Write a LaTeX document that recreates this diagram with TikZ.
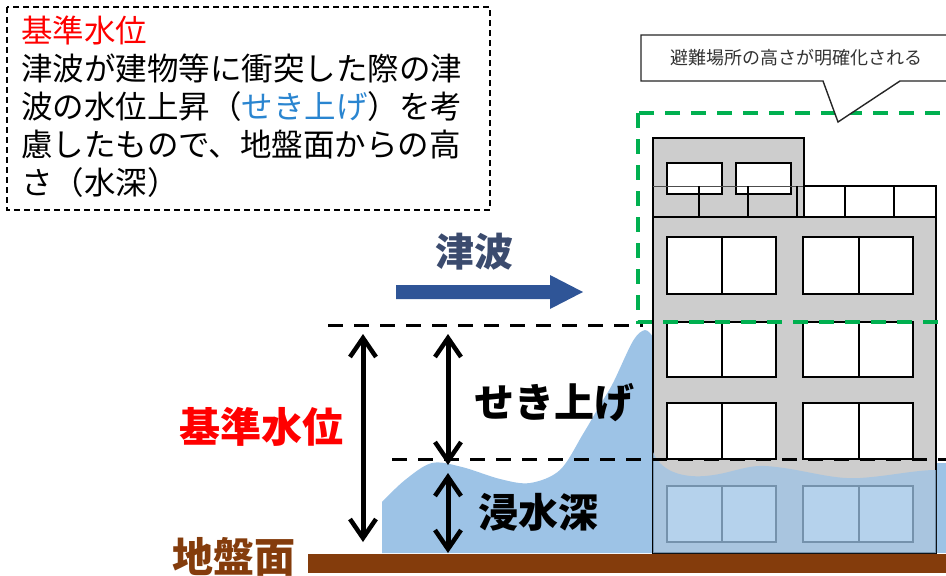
\documentclass[tikz,border=0pt]{standalone}
\usepackage{fontspec}
\newfontfamily\jp{Noto Sans CJK JP}
\usetikzlibrary{arrows.meta}
\definecolor{waterblue}{HTML}{9DC3E6}
\definecolor{wallgray}{HTML}{CDCDCD}
\definecolor{soil}{HTML}{843C0C}
\definecolor{flowblue}{HTML}{2F5597}
\definecolor{flowtext}{HTML}{3B4B6E}
\definecolor{keyred}{HTML}{FF0000}
\definecolor{keyblue}{HTML}{2A85D0}
\definecolor{zonegreen}{HTML}{00B050}
\tikzset{
  wall/.style={fill=wallgray, draw=black, line width=2pt},
  pane/.style={fill=white, draw=black, line width=2.5pt},
  level/.style={draw=black, line width=3pt, dash pattern=on 15pt off 11pt},
  dimarrow/.style={draw=black, line width=5pt,
    {Straight Barb[length=19pt,width=26pt,line width=4.5pt]}-{Straight Barb[length=19pt,width=26pt,line width=4.5pt]}},
  biglabel/.style={inner sep=0pt, font=\jp\bfseries\fontsize{40}{44}\selectfont},
}
\begin{document}
\begin{tikzpicture}[x=1pt, y=-1pt]
\useasboundingbox (0,0) rectangle (946,576);
\clip (0,0) rectangle (946,576);

% explanation box
\draw[line width=1.3pt, dash pattern=on 6pt off 4pt] (7,7) rectangle (490,210);
\node[anchor=west, inner sep=0pt, align=left, font=\jp\fontsize{31.5}{38}\selectfont] (note) at (21,107)
  {\textcolor{keyred}{基準水位}\\津波が建物等に衝突した際の津\\波の水位上昇（\textcolor{keyblue}{せき上げ}）を考\\慮したもので、地盤面からの高\\さ（水深）};

% water outside the building
\fill[waterblue] (382,553) -- plot[smooth, tension=0.55] coordinates
  {(382,502) (405,480) (432,463) (462,467) (500,479) (530,483) (560,470) (583,434) (600,405) (613,383) (633,341) (645,330) (653,337)}
  -- (653,553) -- cycle;
\fill[waterblue] (936,463) rectangle (946,553);

% building
\node[wall, inner sep=0pt, minimum width=151pt, minimum height=79pt] (penthouse) at (728.5,177.5) {};
\node[pane, inner sep=0pt, minimum width=55pt, minimum height=31pt] (pw1) at (694.5,178.5) {};
\node[pane, inner sep=0pt, minimum width=55pt, minimum height=31pt] (pw2) at (763.5,178.5) {};
\draw[black!70, line width=1pt] (653,186) -- (804,186);
\draw[black, line width=2pt] (699,186) -- (699,217) (748,186) -- (748,217) (797,186) -- (797,217);
\draw[black, line width=2pt, fill=white] (804,186) rectangle (936,217);
\draw[black, line width=2pt] (845,186) -- (845,217) (894,186) -- (894,217);
\node[wall, inner sep=0pt, minimum width=283pt, minimum height=336pt] (body) at (794.5,385) {};
\foreach \top/\bot [count=\r] in {237/294, 322/377, 403/459, 486/542} {
  \draw[pane] (667,\top) rectangle (776,\bot);
  \draw[black, line width=2.5pt] (722,\top) -- (722,\bot);
  \draw[pane] (803,\top) rectangle (913,\bot);
  \draw[black, line width=2.5pt] (859,\top) -- (859,\bot);
}

% water in front of the building
\fill[waterblue, opacity=0.75] (653,452) .. controls (660,470) and (680,478) .. (705,476)
  .. controls (730,474) and (745,465) .. (765,466)
  .. controls (800,468) and (830,480) .. (860,478)
  .. controls (890,476) and (915,470) .. (936,470)
  -- (936,553) -- (653,553) -- cycle;

% ground
\fill[soil] (308,554) rectangle (946,573);

% evacuation zone and callout
\draw[zonegreen, line width=4pt, dash pattern=on 15pt off 11pt] (638,113) rectangle (970,322);
\draw[fill=white, draw=black!85, line width=1.4pt] (641,35) -- (970,35) -- (970,81) -- (900,81) -- (838,122) -- (823,81) -- (641,81) -- cycle;
\node[inner sep=0pt, text=black!80, font=\jp\fontsize{18}{20}\selectfont] (callout) at (796,58) {避難場所の高さが明確化される};

% water levels
\coordinate (up1) at (328,325);
\coordinate (up2) at (643,325);
\coordinate (lo1) at (392,459);
\coordinate (lo2) at (946,459);
\draw[level] (up1) -- (up2);
\draw[level] (lo1) -- (lo2);

% dimension arrows
\coordinate (a1) at (363,334);
\coordinate (a2) at (363,542);
\coordinate (b1) at (448,334);
\coordinate (b2) at (448,465);
\coordinate (c1) at (448,473);
\coordinate (c2) at (448,553);
\draw[dimarrow] (a1) -- (a2);
\draw[dimarrow] (b1) -- (b2);
\draw[dimarrow] (c1) -- (c2);

% tsunami direction
\fill[flowblue] (396,285) -- (550,285) -- (550,275) -- (583,292) -- (550,309) -- (550,299) -- (396,299) -- cycle;
\node[biglabel, text=flowtext, font=\jp\bfseries\fontsize{39}{42}\selectfont] (tsunami) at (474,252) {津波};

% labels
\node[biglabel, text=black] (runup) at (554,403) {せき上げ};
\node[biglabel, text=black] (depth) at (538,512) {浸水深};
\node[biglabel, text=keyred, font=\jp\bfseries\fontsize{41}{44}\selectfont] (ref) at (261,427) {基準水位};
\node[biglabel, text=soil, font=\jp\bfseries\fontsize{41}{44}\selectfont] (groundlabel) at (234,557) {地盤面};
\end{tikzpicture}
\end{document}
